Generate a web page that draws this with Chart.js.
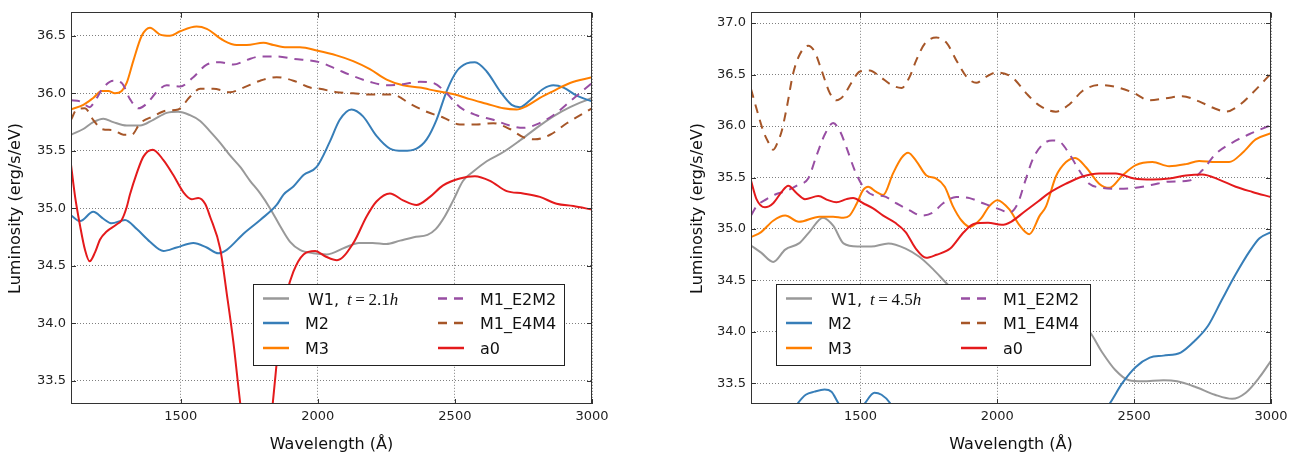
<!DOCTYPE html>
<html><head><meta charset="utf-8">
<script src="https://cdn.jsdelivr.net/npm/chart.js@4.4.0/dist/chart.umd.min.js"></script>
<style>
html,body{margin:0;padding:0;background:#fff;}
#wrap{position:relative;width:1307px;height:461px;overflow:hidden;}
canvas{position:absolute;top:0;}
</style></head>
<body><div id="wrap"><canvas id="cl" width="650" height="461" style="left:0"></canvas><canvas id="cr" width="657" height="461" style="left:650px"></canvas></div>
<script>
// ---------- tick labels ----------
const xTicks = [1500, 2000, 2500, 3000];
const leftYTicks = [33.5, 34.0, 34.5, 35.0, 35.5, 36.0, 36.5];
const rightYTicks = [33.5, 34.0, 34.5, 35.0, 35.5, 36.0, 36.5, 37.0];
const seriesNames = ['W1', 'M2', 'M3', 'M1_E2M2', 'M1_E4M4', 'a0'];
const times = ['2.1', '4.5'];

// ---------- left panel (t = 2.1h): [wavelength, luminosity] ----------
const L_W1 = [[1100,35.64],[1145,35.69],[1181,35.75],[1218,35.78],[1254,35.75],[1303,35.72],[1352,35.72],[1400,35.77],[1449,35.83],[1491,35.84],[1534,35.81],[1571,35.76],[1607,35.67],[1644,35.57],[1680,35.46],[1717,35.36],[1753,35.24],[1790,35.13],[1826,35.00],[1862,34.85],[1899,34.71],[1935,34.64],[1984,34.61],[2033,34.60],[2100,34.66],[2150,34.70],[2200,34.70],[2250,34.69],[2300,34.72],[2350,34.75],[2400,34.77],[2430,34.82],[2463,34.93],[2494,35.07],[2530,35.24],[2567,35.32],[2616,35.41],[2677,35.49],[2737,35.59],[2798,35.70],[2859,35.80],[2920,35.88],[3000,35.96]];
const L_M2 = [[1100,34.94],[1133,34.89],[1181,34.97],[1218,34.91],[1248,34.87],[1297,34.90],[1340,34.82],[1388,34.71],[1437,34.63],[1485,34.66],[1546,34.70],[1595,34.66],[1637,34.61],[1668,34.64],[1729,34.78],[1790,34.90],[1850,35.03],[1875,35.12],[1911,35.19],[1948,35.29],[1996,35.36],[2044,35.58],[2080,35.77],[2123,35.86],[2165,35.80],[2214,35.63],[2263,35.52],[2311,35.50],[2360,35.52],[2397,35.60],[2433,35.77],[2470,36.02],[2506,36.19],[2543,36.26],[2573,36.27],[2616,36.19],[2664,36.02],[2707,35.90],[2737,35.88],[2774,35.94],[2823,36.04],[2859,36.07],[2896,36.05],[2944,35.98],[3000,35.93]];
const L_M3 = [[1100,35.86],[1145,35.90],[1181,35.96],[1212,36.02],[1236,36.02],[1260,36.00],[1285,36.02],[1303,36.09],[1327,36.28],[1358,36.50],[1388,36.57],[1425,36.51],[1461,36.50],[1498,36.54],[1558,36.58],[1595,36.56],[1656,36.46],[1704,36.42],[1741,36.42],[1802,36.44],[1838,36.42],[1887,36.40],[1935,36.40],[2000,36.37],[2068,36.33],[2129,36.28],[2190,36.21],[2251,36.12],[2311,36.07],[2372,36.05],[2433,36.02],[2500,35.99],[2555,35.95],[2616,35.91],[2677,35.87],[2725,35.86],[2762,35.89],[2810,35.96],[2859,36.02],[2920,36.09],[3000,36.14]];
const L_E2M2 = [[1100,35.94],[1133,35.93],[1169,35.88],[1181,35.91],[1218,36.05],[1254,36.11],[1285,36.09],[1315,35.95],[1346,35.87],[1376,35.91],[1412,36.01],[1449,36.07],[1498,36.06],[1546,36.14],[1595,36.25],[1644,36.27],[1692,36.25],[1741,36.29],[1790,36.32],[1850,36.32],[1911,36.30],[2007,36.27],[2068,36.21],[2129,36.15],[2190,36.10],[2251,36.07],[2311,36.08],[2372,36.10],[2421,36.09],[2470,36.00],[2518,35.88],[2579,35.81],[2640,35.77],[2700,35.72],[2749,35.70],[2798,35.73],[2859,35.81],[2920,35.93],[3000,36.09]];
const L_E4M4 = [[1100,35.77],[1121,35.86],[1151,35.87],[1181,35.77],[1212,35.69],[1254,35.68],[1291,35.64],[1321,35.64],[1352,35.74],[1400,35.80],[1449,35.85],[1491,35.86],[1534,35.97],[1571,36.04],[1619,36.04],[1680,36.01],[1729,36.05],[1790,36.11],[1850,36.14],[1911,36.11],[1972,36.05],[2007,36.04],[2068,36.01],[2129,36.00],[2190,35.99],[2251,35.99],[2287,35.98],[2336,35.91],[2397,35.84],[2457,35.79],[2518,35.73],[2579,35.73],[2640,35.74],[2700,35.69],[2749,35.62],[2792,35.60],[2847,35.64],[2908,35.74],[3000,35.87]];
const L_A0 = [[1100,35.38],[1115,35.10],[1133,34.85],[1151,34.64],[1168,34.54],[1188,34.62],[1206,34.73],[1230,34.80],[1266,34.86],[1285,34.90],[1303,35.01],[1315,35.12],[1339,35.30],[1364,35.45],[1398,35.51],[1437,35.42],[1473,35.29],[1510,35.14],[1540,35.08],[1564,35.09],[1589,35.04],[1607,34.93],[1644,34.65],[1668,34.26],[1692,33.84],[1717,33.31],[1750,32.7],[1780,32.5],[1810,32.7],[1838,33.36],[1862,33.92],[1887,34.26],[1911,34.45],[1948,34.60],[1990,34.63],[2030,34.58],[2070,34.55],[2130,34.70],[2178,34.93],[2214,35.06],[2263,35.13],[2311,35.07],[2360,35.03],[2409,35.10],[2457,35.20],[2518,35.26],[2573,35.28],[2628,35.24],[2689,35.15],[2749,35.13],[2810,35.10],[2871,35.04],[2932,35.02],[3000,34.99]];

// ---------- right panel (t = 4.5h) ----------
const R_W1 = [[1100,34.84],[1137,34.77],[1181,34.68],[1225,34.80],[1275,34.86],[1313,34.97],[1363,35.11],[1401,35.03],[1438,34.86],[1489,34.83],[1539,34.83],[1602,34.86],[1665,34.81],[1715,34.73],[1765,34.61],[1815,34.47],[1900,34.25],[2000,34.15],[2100,34.12],[2200,34.12],[2280,34.08],[2337,34.00],[2381,33.81],[2431,33.63],[2481,33.53],[2531,33.52],[2607,33.53],[2657,33.52],[2720,33.47],[2795,33.39],[2858,33.35],[2908,33.41],[2958,33.56],[3000,33.72]];
const R_M2 = [[1100,32.9],[1180,33.0],[1240,33.18],[1269,33.30],[1300,33.39],[1332,33.42],[1369,33.44],[1394,33.42],[1419,33.31],[1465,33.15],[1514,33.30],[1551,33.41],[1577,33.39],[1608,33.31],[1650,33.1],[1750,32.8],[2000,32.5],[2250,32.8],[2350,33.1],[2412,33.31],[2456,33.50],[2506,33.66],[2557,33.75],[2607,33.77],[2670,33.80],[2720,33.91],[2770,34.06],[2820,34.31],[2871,34.56],[2921,34.78],[2958,34.91],[3000,34.97]];
const R_M3 = [[1100,34.92],[1137,34.97],[1181,35.08],[1225,35.13],[1275,35.07],[1350,35.12],[1400,35.12],[1438,35.11],[1460,35.13],[1485,35.24],[1510,35.38],[1528,35.41],[1558,35.36],[1583,35.33],[1619,35.54],[1650,35.69],[1674,35.74],[1704,35.66],[1741,35.52],[1777,35.49],[1808,35.41],[1838,35.22],[1870,35.08],[1900,35.02],[1940,35.10],[1970,35.22],[2000,35.28],[2044,35.19],[2080,35.04],[2117,34.95],[2155,35.13],[2178,35.22],[2214,35.51],[2251,35.65],[2285,35.69],[2324,35.60],[2372,35.44],[2409,35.40],[2457,35.52],[2506,35.62],[2567,35.65],[2628,35.61],[2689,35.63],[2737,35.66],[2798,35.65],[2847,35.65],[2896,35.74],[2944,35.87],[3000,35.93]];
const R_E2M2 = [[1100,35.13],[1120,35.22],[1157,35.29],[1193,35.34],[1230,35.37],[1273,35.43],[1309,35.49],[1339,35.71],[1370,35.92],[1400,36.03],[1425,35.95],[1449,35.79],[1479,35.57],[1510,35.41],[1546,35.33],[1583,35.32],[1631,35.25],[1680,35.18],[1723,35.13],[1765,35.16],[1802,35.25],[1850,35.31],[1899,35.30],[1948,35.25],[2009,35.19],[2045,35.16],[2075,35.25],[2100,35.45],[2130,35.68],[2165,35.82],[2200,35.86],[2226,35.85],[2263,35.73],[2299,35.57],[2336,35.44],[2384,35.40],[2445,35.39],[2506,35.40],[2567,35.43],[2628,35.46],[2701,35.47],[2749,35.57],[2798,35.73],[2859,35.84],[2920,35.92],[3000,36.01]];
const R_E4M4 = [[1100,36.36],[1120,36.17],[1145,35.95],[1162,35.85],[1181,35.77],[1200,35.86],[1212,35.95],[1230,36.17],[1254,36.51],[1279,36.70],[1309,36.78],[1333,36.72],[1358,36.54],[1388,36.32],[1412,36.25],[1437,36.29],[1467,36.42],[1498,36.53],[1534,36.54],[1571,36.48],[1613,36.40],[1650,36.37],[1680,36.48],[1704,36.64],[1735,36.80],[1777,36.86],[1814,36.81],[1850,36.64],[1887,36.48],[1923,36.42],[1960,36.48],[1996,36.52],[2056,36.47],[2105,36.32],[2153,36.20],[2214,36.14],[2263,36.21],[2311,36.34],[2372,36.40],[2433,36.38],[2500,36.32],[2555,36.25],[2616,36.27],[2676,36.29],[2737,36.24],[2786,36.18],[2835,36.14],[2883,36.20],[2932,36.32],[3000,36.51]];
const R_A0 = [[1100,35.47],[1120,35.29],[1151,35.21],[1181,35.25],[1212,35.36],[1236,35.42],[1266,35.35],[1297,35.29],[1346,35.32],[1382,35.28],[1412,35.26],[1449,35.29],[1473,35.30],[1510,35.25],[1546,35.20],[1583,35.13],[1627,35.06],[1665,34.97],[1702,34.81],[1740,34.72],[1778,34.75],[1828,34.81],[1878,34.97],[1916,35.05],[1966,35.06],[2016,35.04],[2050,35.07],[2100,35.17],[2150,35.27],[2190,35.35],[2251,35.44],[2311,35.51],[2372,35.54],[2433,35.54],[2500,35.49],[2567,35.48],[2628,35.49],[2689,35.52],[2749,35.53],[2810,35.48],[2871,35.41],[2932,35.36],[3000,35.31]];

// ---------- styling ----------
const colors = ['#999999', '#377eb8', '#ff7f00', '#984ea3', '#a65628', '#e41a1c'];
const dashes = [[], [], [], [9, 7], [9, 7], []];

function toPts(arr) { return arr.map(p => ({x: p[0], y: p[1]})); }

const framePlugin = {
  id: 'frame',
  afterDatasetsDraw(chart, args, opts) {
    const ctx = chart.ctx, a = chart.chartArea, xs = chart.scales.x, ys = chart.scales.y;
    ctx.save();
    // legend
    const [bx, by, bw, bh] = opts.box;
    ctx.fillStyle = '#fff';
    ctx.fillRect(bx, by, bw, bh);
    ctx.strokeStyle = '#222'; ctx.lineWidth = 1; ctx.setLineDash([]);
    ctx.strokeRect(bx + 0.5, by + 0.5, bw - 1, bh - 1);
    const rows = [by + 14.5, by + 39, by + 64];
    chart.data.datasets.forEach((ds, i) => {
      const col = i < 3 ? 0 : 1, row = i % 3;
      const lx = bx + (col === 0 ? 10 : 185);
      const tx = bx + (col === 0 ? 52 : 227);
      const yy = rows[row];
      ctx.strokeStyle = ds.borderColor; ctx.lineWidth = 2.5;
      ctx.setLineDash(ds.borderDash || []);
      ctx.beginPath(); ctx.moveTo(lx, yy); ctx.lineTo(lx + 26, yy); ctx.stroke();
      ctx.setLineDash([]);
      ctx.fillStyle = '#111';
      ctx.textBaseline = 'alphabetic'; ctx.textAlign = 'left';
      ctx.font = '16px "DejaVu Sans"';
      if (i === 0) {
        let x = tx + 3;
        const base = yy + 6;
        ctx.fillText(seriesNames[0] + ',', x, base);
        x += ctx.measureText(seriesNames[0] + ',').width + 8;
        ctx.font = 'italic 17px "Liberation Serif"';
        ctx.fillText('t', x, base); x += ctx.measureText('t').width + 3.5;
        ctx.font = '17px "Liberation Serif"';
        ctx.fillText('=', x, base); x += ctx.measureText('=').width + 3.5;
        ctx.fillText(opts.time, x, base); x += ctx.measureText(opts.time).width;
        ctx.font = 'italic 17px "Liberation Serif"';
        ctx.fillText('h', x, base);
      } else {
        ctx.fillText(ds.label, tx, yy + 6);
      }
    });
    // inward ticks
    ctx.strokeStyle = '#333'; ctx.lineWidth = 1; ctx.setLineDash([]);
    ctx.beginPath();
    xs.ticks.forEach(t => {
      const px = Math.round(xs.getPixelForValue(t.value)) + 0.5;
      ctx.moveTo(px, a.bottom); ctx.lineTo(px, a.bottom - 5);
      ctx.moveTo(px, a.top); ctx.lineTo(px, a.top + 5);
    });
    ys.ticks.forEach(t => {
      const py = Math.round(ys.getPixelForValue(t.value)) + 0.5;
      ctx.moveTo(a.left, py); ctx.lineTo(a.left + 5, py);
      ctx.moveTo(a.right, py); ctx.lineTo(a.right - 5, py);
    });
    ctx.stroke();
    // frame
    ctx.strokeRect(Math.round(a.left) + 0.5, Math.round(a.top) - 0.5, Math.round(a.right - a.left) - 1, Math.round(a.bottom - a.top) + 0);
    ctx.restore();
  }
};

function makeChart(id, series, yTicks, yMin, yMax, yWidth, padRight, titlePad, box, time) {
  return new Chart(document.getElementById(id), {
    type: 'line',
    data: {
      datasets: series.map((s, i) => ({
        label: seriesNames[i],
        data: toPts(s),
        borderColor: colors[i],
        borderDash: dashes[i],
        borderWidth: 2,
        pointRadius: 0,
        fill: false,
        cubicInterpolationMode: 'monotone',
        clip: 0,
        order: series.length - i
      }))
    },
    options: {
      responsive: false, animation: false, devicePixelRatio: 1,
      parsing: false, normalized: true,
      layout: { padding: { left: 0, top: 1, right: padRight, bottom: 0 }, autoPadding: false },
      plugins: { legend: { display: false }, tooltip: { enabled: false }, frame: { box: box, time: time } },
      events: [],
      scales: {
        x: {
          type: 'linear', min: 1100, max: 3000,
          afterBuildTicks: s => { s.ticks = xTicks.map(v => ({ value: v })); },
          afterFit: s => { s.height = 57; },
          grid: { color: 'rgba(0,0,0,0.5)', lineWidth: 1, drawTicks: false },
          border: { display: false, dash: [1, 2] },
          ticks: { padding: 5, maxRotation: 0, autoSkip: false, color: '#222', font: { family: 'DejaVu Sans', size: 13 }, callback: v => String(v) },
          title: { display: true, text: 'Wavelength (Å)', color: '#111', font: { family: 'DejaVu Sans', size: 16 }, padding: { top: 0, bottom: 7 } }
        },
        y: {
          type: 'linear', min: yMin, max: yMax,
          afterBuildTicks: s => { s.ticks = yTicks.map(v => ({ value: v })); },
          afterFit: s => { s.width = yWidth; },
          grid: { color: 'rgba(0,0,0,0.5)', lineWidth: 1, drawTicks: false },
          border: { display: false, dash: [1, 2] },
          ticks: { padding: 5, color: '#222', font: { family: 'DejaVu Sans', size: 13 }, callback: v => Number(v).toFixed(1) },
          title: { display: true, text: 'Luminosity (erg/s/eV)', color: '#111', font: { family: 'DejaVu Sans', size: 16 }, padding: { top: titlePad, bottom: 0 } }
        }
      }
    },
    plugins: [framePlugin]
  });
}

makeChart('cl', [L_W1, L_M2, L_M3, L_E2M2, L_E4M4, L_A0], leftYTicks, 33.3, 36.7, 71, 58, 6, [253, 284, 312, 82], times[0]);
makeChart('cr', [R_W1, R_M2, R_M3, R_E2M2, R_E4M4, R_A0], rightYTicks, 33.3, 37.1, 101, 36, 38, [126, 284, 315, 82], times[1]);
</script>
</body></html>
